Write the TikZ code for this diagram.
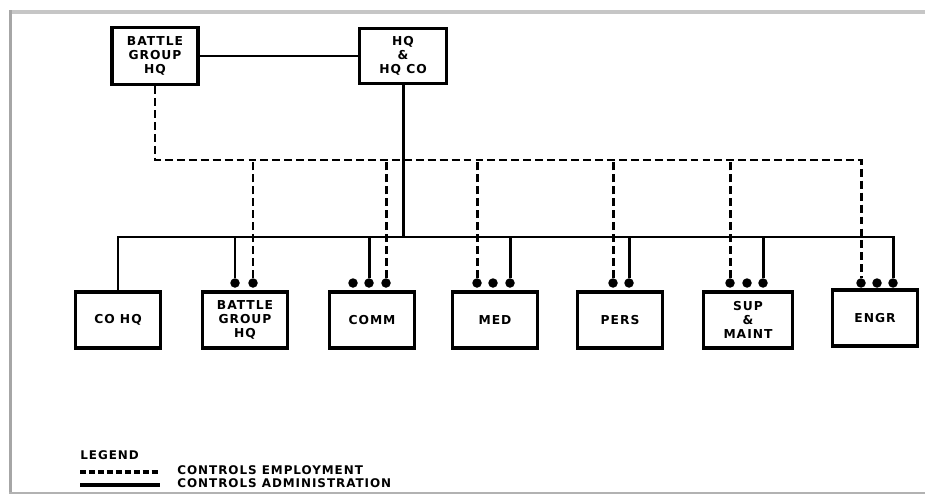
\documentclass[tikz,border=0pt]{standalone}
\usepackage{fontspec}
\newfontfamily\orgfont{DejaVu Sans}[LetterSpace=8]
\usetikzlibrary{positioning}

\begin{document}
\begin{tikzpicture}
	[x=0.02cm,y=-0.02cm,
	unit/.style={draw=black,line width=2pt,fill=white,minimum width=1.7cm,minimum height=1.12cm,align=center,inner sep=1pt,font=\orgfont\bfseries\fontsize{7}{8}\selectfont},
	dot/.style={circle,fill=black,inner sep=0pt,minimum size=0.19cm},
	adm/.style={line width=1.7pt},
	emp/.style={line width=1.7pt,dash pattern=on 4.5pt off 2.3pt},
	legtext/.style={anchor=west,inner sep=0pt,font=\orgfont\bfseries\fontsize{6.8}{8}\selectfont}]
	\useasboundingbox (0,0) rectangle (925,497);
	% page frame
	\fill[gray!45] (9,10) rectangle (925,14);
	\fill[gray!70] (9,10) rectangle (12,493);
	\draw[gray!60,line width=1pt] (9,493) -- (925,493);
	
	\node[unit,minimum width=1.72cm,minimum height=1.14cm] (bg) at (155,56) {BATTLE\\GROUP\\HQ};
	\node[unit,minimum width=1.74cm,minimum height=1.1cm] (hq) at (403,56) {HQ\\\&\\HQ CO};
	
	\node[unit] (cohq) at (118,320) {CO HQ};
	\node[unit] (bghq) at (245,320) {BATTLE\\GROUP\\HQ};
	\node[unit] (comm) at (372,320) {COMM};
	\node[unit] (med)  at (495,320) {MED};
	\node[unit] (pers) at (620,320) {PERS};
	\node[unit,minimum width=1.78cm] (sup)  at (748,320) {SUP\\\&\\MAINT};
	\node[unit] (engr) at (875,318) {ENGR};
	
	\foreach \n/\x in {b1/235,b2/253,c1/353,c2/369,c3/386,m1/477,m2/493,m3/510,p1/613,p2/629,s1/730,s2/747,s3/763,e1/861,e2/877,e3/893}
	\node[dot] (\n) at (\x,283) {};
	
	\coordinate (bus) at (118,237);
	\coordinate (dline) at (155,160);
	
	% administration
	\draw[adm] (bg) -- (hq);
	\draw[adm] (hq.south) -- (hq.south |- bus);
	\draw[adm] (cohq.north) -- (bus) -| (e3);
	\foreach \d in {b1,c2,m3,p2,s3}
	\draw[adm] (\d) -- (\d |- bus);
	
	% employment
	\draw[emp] (bg.south) -- (dline) -| (e1);
	\foreach \d in {b2,c3,m1,p1,s1}
	\draw[emp] (\d) -- (\d |- dline);
	
	% legend
	\node[legtext] (legend) at (80,455) {LEGEND};
	\node[legtext] (empl) at (177,470) {CONTROLS EMPLOYMENT};
	\node[legtext] (admn) at (177,483) {CONTROLS ADMINISTRATION};
	\coordinate (ea) at (80,472);
	\coordinate (aa) at (80,485);
	\draw[emp,line width=1.8pt,dash pattern=on 3.5pt off 1.6pt] (ea) -- ++(80,0);
	\draw[adm,line width=2pt] (aa) -- ++(80,0);
	
\end{tikzpicture}
\end{document}
